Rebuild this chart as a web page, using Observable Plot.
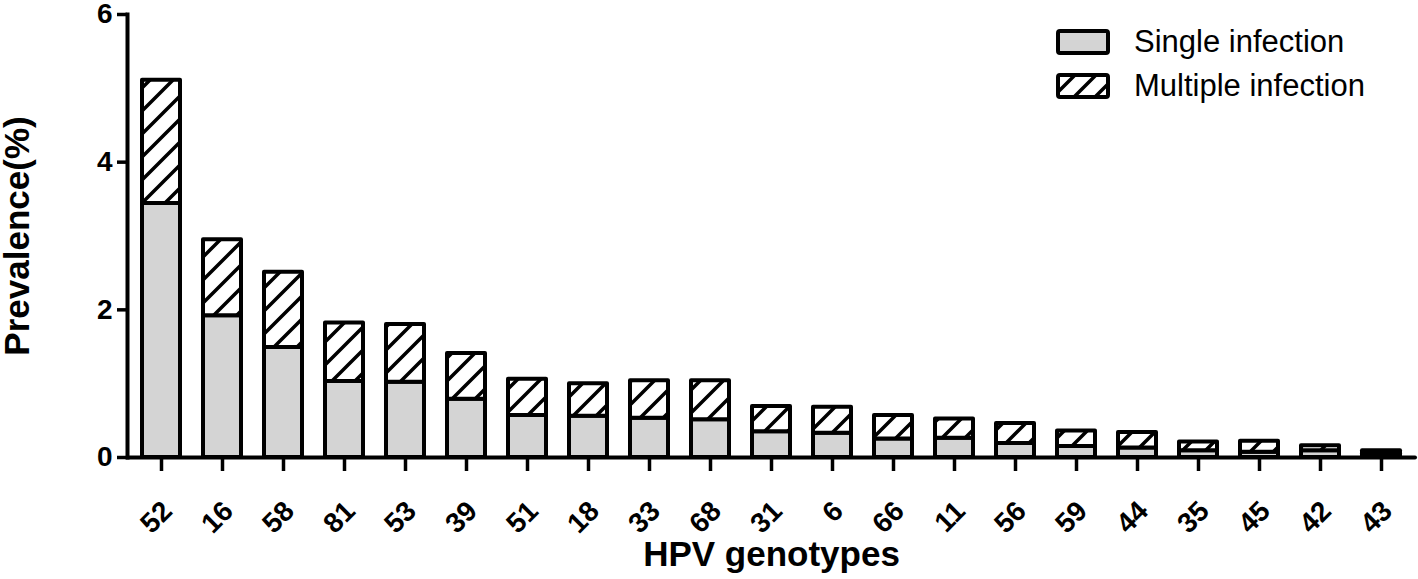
<!DOCTYPE html>
<html>
<head>
<meta charset="utf-8">
<script src="https://cdn.jsdelivr.net/npm/d3@7"></script>
<script src="https://cdn.jsdelivr.net/npm/@observablehq/plot@0.6"></script>
<style>
  html, body { margin: 0; padding: 0; background: #fff; }
  #wrap { position: relative; width: 1418px; height: 579px; font-family: "Liberation Sans", Arial, sans-serif; }
  #wrap svg.plot { font-family: "Liberation Sans", Arial, sans-serif; overflow: visible; }
  g[aria-label="y-axis tick label"], g[aria-label="y-axis tick label"] text { font-size: 28px !important; font-weight: bold !important; fill: #000; }
  g[aria-label="x-axis tick label"], g[aria-label="x-axis tick label"] text { font-size: 28px !important; font-weight: bold !important; fill: #000; }
  g[aria-label="y-axis label"] text { font-size: 35px !important; font-weight: bold; fill: #000; }
  g[aria-label="x-axis label"] text { font-size: 35px !important; font-weight: bold; fill: #000; }
  #legend { position: absolute; left: 1056px; top: 20px; }
  .row { display: flex; align-items: center; height: 44px; }
  .row span { font-size: 31px; color: #000; margin-left: 24px; }
</style>
</head>
<body>
<svg width="0" height="0" style="position:absolute">
  <defs>
    <pattern id="hatch" patternUnits="userSpaceOnUse" width="23" height="23">
      <rect width="23" height="23" fill="#fff"></rect>
      <path d="M-6,6 L6,-6 M0,23 L23,0 M17,29 L29,17" stroke="#000" stroke-width="3.5"></path>
    </pattern>
    <pattern id="hatchL" patternUnits="userSpaceOnUse" width="21" height="21">
      <rect width="21" height="21" fill="#fff"></rect>
      <path d="M-5,5 L5,-5 M0,21 L21,0 M16,26 L26,16" stroke="#000" stroke-width="3.5"></path>
    </pattern>
  </defs>
</svg>
<div id="wrap">
  <div id="chart"></div>
  <div id="legend">
    <div class="row"><svg width="54" height="27"><rect x="2" y="2" width="50" height="22" rx="2" fill="#d4d4d4" stroke="#000" stroke-width="4"></rect></svg><span>Single infection</span></div>
    <div class="row"><svg width="54" height="27"><rect x="2" y="2" width="50" height="22" rx="2" fill="url(#hatchL)" stroke="#000" stroke-width="4"></rect></svg><span>Multiple infection</span></div>
  </div>
</div>
<script>
const genotypes = ["52","16","58","81","53","39","51","18","33","68","31","6","66","11","56","59","44","35","45","42","43"];
const single =   [3.44,1.92,1.49,1.03,1.02,0.79,0.57,0.56,0.53,0.51,0.35,0.33,0.25,0.26,0.19,0.15,0.13,0.09,0.07,0.09,0.05];
const multiple = [1.67,1.03,1.02,0.79,0.78,0.62,0.49,0.44,0.51,0.53,0.34,0.35,0.32,0.26,0.27,0.21,0.21,0.12,0.15,0.07,0.04];
const yTicks = [0, 2, 4, 6];

const data = genotypes.map((g, i) => ({genotype: g, single: single[i], total: single[i] + multiple[i]}));

const chart = Plot.plot({
  width: 1418,
  height: 579,
  marginLeft: 127,
  marginRight: 3,
  marginTop: 14,
  marginBottom: 122,
  x: {domain: genotypes, paddingInner: 0.37, paddingOuter: 0.24},
  y: {domain: [0, 6]},
  marks: [
    Plot.barY(data, {x: "genotype", y1: 0, y2: "single", fill: "#d4d4d4", stroke: "#000", strokeWidth: 4, strokeLinejoin: "round"}),
    Plot.barY(data, {x: "genotype", y1: "single", y2: "total", fill: "url(#hatch)", stroke: "#000", strokeWidth: 4, strokeLinejoin: "round"}),
    Plot.frame({anchor: "left", stroke: "#000", strokeWidth: 4}),
    Plot.ruleY([0], {stroke: "#000", strokeWidth: 4, strokeLinecap: "round"}),
    Plot.axisY({ticks: yTicks, tickSize: 10, tickPadding: 5, stroke: "#000", strokeWidth: 3.5, tickFormat: d => String(d),
      fontSize: 28, fontWeight: "bold",
      label: "Prevalence(%)", labelAnchor: "center", labelOffset: 123, labelArrow: "none"}),
    Plot.axisX({tickSize: 14, stroke: "#000", strokeWidth: 3.5, fill: "none", label: null}),
    Plot.axisX({tickSize: 0, tickPadding: 49, tickRotate: -45, dx: 6,
      fontSize: 28, fontWeight: "bold", fill: "#000",
      label: "HPV genotypes", labelAnchor: "center", labelOffset: 108, labelArrow: "none"})
  ]
});
chart.classList.add("plot");
document.getElementById("chart").appendChild(chart);
</script>
</body>
</html>
